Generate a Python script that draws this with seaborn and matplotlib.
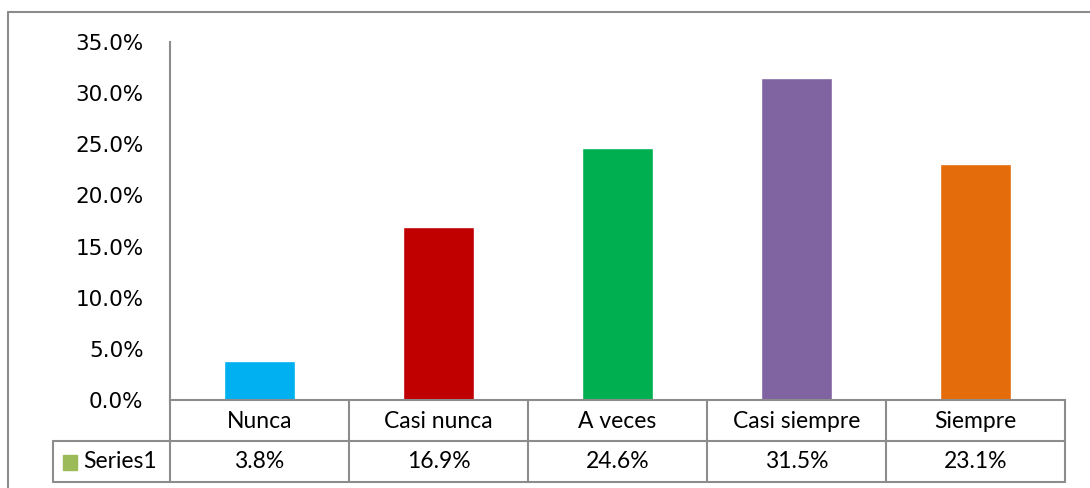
import matplotlib
matplotlib.use('Agg')
import pandas as pd
import seaborn as sns
import matplotlib.pyplot as plt
from matplotlib.lines import Line2D
from matplotlib.patches import Rectangle
from matplotlib.ticker import PercentFormatter

# data
categorias = ['Nunca', 'Casi nunca', 'A veces', 'Casi siempre', 'Siempre']
valores = [0.038, 0.169, 0.246, 0.315, 0.231]
etiquetas = ['3.8%', '16.9%', '24.6%', '31.5%', '23.1%']
colores = ['#00B0F0', '#C00000', '#00B050', '#8064A2', '#E46C0A']
serie = 'Series1'
color_serie = '#9BBB59'

sns.set_style('white')
plt.rcParams['font.family'] = ['DejaVu Sans']
plt.rcParams['text.color'] = 'black'
plt.rcParams['ytick.color'] = 'black'

W, H = 1090, 488
fig = plt.figure(figsize=(W / 100, H / 100), dpi=100)

# pixel -> figure fraction
def px(x, y):
    return x / W, 1 - y / H

x0, x1, y0, y1 = 170, 1065, 400, 42
ax = fig.add_axes([x0 / W, 1 - y0 / H, (x1 - x0) / W, (y0 - y1) / H])

df = pd.DataFrame({'categoria': categorias, 'valor': valores})
sns.barplot(data=df, x='categoria', y='valor', hue='categoria',
            palette=colores, width=0.4, legend=False, ax=ax, saturation=1)

ax.set_ylim(0, 0.35)
ax.set_xlim(-0.5, len(categorias) - 0.5)
ax.set_yticks([i * 0.05 for i in range(8)])
ax.yaxis.set_major_formatter(PercentFormatter(1.0, decimals=1))
ax.tick_params(axis='y', labelsize=15.5, length=0, pad=19, labelcolor='black')
ax.set_xticks([])
ax.set_xlabel('')
ax.set_ylabel('')
for s in ['top', 'right']:
    ax.spines[s].set_visible(False)
for s in ['left', 'bottom']:
    ax.spines[s].set_color('#8c8c8c')
    ax.spines[s].set_linewidth(1.5)

gris = '#8c8c8c'

def linea(xa, ya, xb, yb, lw=1.5):
    (fx0, fy0), (fx1, fy1) = px(xa, ya), px(xb, yb)
    fig.add_artist(Line2D([fx0, fx1], [fy0, fy1], color=gris, lw=lw))

# outer chart border
linea(8, 12, W, 12)
linea(8, 12, 8, H)

# data table
cw = (x1 - x0) / len(categorias)
for i in range(len(categorias) + 1):
    linea(x0 + i * cw, 400, x0 + i * cw, 482)
linea(53, 441, x1, 441)
linea(53, 482, x1, 482)
linea(53, 441, 53, 482)

fuente = ['Lato', 'DejaVu Sans']
for i, (c, e) in enumerate(zip(categorias, etiquetas)):
    cx = x0 + (i + 0.5) * cw
    fx, fy = px(cx, 421)
    fig.text(fx, fy, c, ha='center', va='center', fontsize=16.5, family=fuente, color='black')
    fx, fy = px(cx, 462)
    fig.text(fx, fy, e, ha='center', va='center', fontsize=16.5, family=fuente, color='black')

fx, fy = px(63, 470)
fig.add_artist(Rectangle((fx, fy), 14 / W, 15 / H, color=color_serie, transform=fig.transFigure))
fx, fy = px(83, 462)
fig.text(fx, fy, serie, ha='left', va='center', fontsize=16.5, family=fuente, color='black')

fig.savefig('out.png', dpi=100)
